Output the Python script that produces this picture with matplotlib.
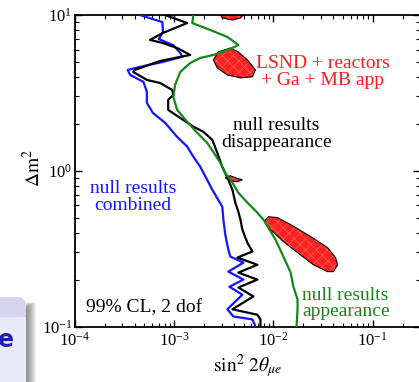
import matplotlib
matplotlib.use("Agg")
import matplotlib.pyplot as plt
from matplotlib.patches import Polygon, FancyBboxPatch, Rectangle

plt.rcParams['font.family'] = ['Liberation Serif', 'DejaVu Serif']
plt.rcParams['mathtext.fontset'] = 'stix'
plt.rcParams['hatch.linewidth'] = 0.5

# exclusion curves (sin^2 2theta, dm^2)
blue_x = [4.5e-4, 7.6e-4, 7.7e-4, 7.0e-4, 9.8e-4, 1.15e-3, 1.21e-3, 7.7e-4, 4.5e-4, 3.4e-4,
          3.6e-4, 4.9e-4, 5.3e-4, 5.3e-4, 6.1e-4, 8.1e-4, 1.07e-3, 1.35e-3, 1.56e-3, 1.83e-3,
          2.06e-3, 2.42e-3, 3.05e-3, 3.13e-3, 3.27e-3, 3.51e-3, 3.68e-3, 4.98e-3, 3.51e-3, 4.98e-3,
          3.6e-3, 4.86e-3, 3.43e-3, 3.94e-3, 6.14e-3, 6.6e-3]
blue_y = [10, 9.0, 7.8, 7.0, 6.4, 5.7, 5.4, 5.0, 4.64, 4.44,
          4.12, 3.72, 3.21, 2.73, 2.35, 2.03, 1.65, 1.43, 1.23, 1.06,
          0.92, 0.755, 0.588, 0.485, 0.389, 0.312, 0.281, 0.257, 0.225, 0.2,
          0.18, 0.16, 0.129, 0.116, 0.111, 0.1]

black_x = [8.1e-4, 1.35e-3, 7.7e-4, 5.7e-4, 7.6e-4, 1.07e-3, 1.45e-3, 7.2e-4, 4.0e-4, 3.86e-4,
           5.3e-4, 7.2e-4, 9.55e-4, 9.8e-4, 8.7e-4, 8.7e-4, 1.23e-3, 1.56e-3, 1.96e-3, 2.42e-3,
           2.72e-3, 3.05e-3, 3.51e-3, 3.86e-3, 4.13e-3, 4.43e-3, 4.65e-3, 4.86e-3, 5.46e-3, 6.14e-3,
           4.33e-3, 6.89e-3, 4.43e-3, 6.89e-3, 4.43e-3, 6.28e-3, 3.86e-3, 6.89e-3, 7.4e-3, 7.4e-3]
black_y = [10, 8.88, 7.67, 6.92, 6.62, 6.14, 5.54, 5.07, 4.44, 4.31,
           3.83, 3.66, 3.30, 3.07, 2.85, 2.46, 2.12, 1.92, 1.78, 1.58,
           1.30, 1.06, 0.875, 0.755, 0.624, 0.546, 0.485, 0.419, 0.345, 0.303,
           0.277, 0.249, 0.222, 0.2, 0.178, 0.156, 0.129, 0.119, 0.111, 0.1]

green_x = [1.56e-3, 1.52e-3, 2.31e-3, 3.43e-3, 4.43e-3, 3.86e-3, 2.48e-3, 1.83e-3, 1.45e-3, 1.15e-3,
           1.02e-3, 9.8e-4, 1.07e-3, 1.38e-3, 1.71e-3, 2.15e-3, 2.48e-3, 2.92e-3, 3.27e-3, 3.86e-3,
           4.43e-3, 5.46e-3, 6.89e-3, 7.93e-3, 8.89e-3, 1.05e-2, 1.26e-2, 1.49e-2, 1.59e-2, 1.75e-2,
           1.75e-2, 1.71e-2]
green_y = [10, 8.88, 8.01, 7.23, 6.42, 6.14, 5.54, 5.30, 4.92, 4.31,
           3.56, 2.98, 2.46, 2.03, 1.75, 1.51, 1.32, 1.12, 0.971, 0.838,
           0.723, 0.624, 0.538, 0.485, 0.431, 0.361, 0.281, 0.222, 0.180, 0.149,
           0.129, 0.1]

# allowed regions (LSND + reactors + Ga + MB app)
blob1_x = [2.78e-3, 3.27e-3, 4.65e-3, 5.21e-3, 4.65e-3, 3.86e-3, 3.05e-3]
blob1_y = [10.45, 10.9, 10.9, 10.3, 9.57, 9.29, 9.57]
blob2_x = [2.48e-3, 2.78e-3, 3.68e-3, 4.43e-3, 5.46e-3, 6.58e-3, 6.14e-3, 4.65e-3, 3.43e-3, 2.72e-3]
blob2_y = [5.15, 5.79, 6.14, 5.79, 5.15, 4.44, 4.01, 3.95, 4.12, 4.57]
blob3_x = [3.27e-3, 3.68e-3, 4.13e-3, 4.86e-3, 4.33e-3, 3.68e-3]
blob3_y = [0.902, 0.929, 0.902, 0.875, 0.850, 0.862]
blob4_x = [8.3e-3, 8.89e-3, 1.10e-2, 1.49e-2, 2.37e-2, 3.51e-2, 4.23e-2, 4.43e-2, 4.04e-2, 3.51e-2,
           2.53e-2, 1.75e-2, 1.26e-2, 9.33e-3, 8.3e-3]
blob4_y = [0.485, 0.507, 0.500, 0.451, 0.378, 0.321, 0.277, 0.249, 0.225, 0.225,
           0.249, 0.298, 0.351, 0.419, 0.464]

fig = plt.figure(figsize=(4.19, 3.82), dpi=100)
ax = fig.add_axes([75 / 419, 55.5 / 382, 345 / 419, 311.5 / 382])

for bx, by in [(blob1_x, blob1_y), (blob2_x, blob2_y), (blob3_x, blob3_y), (blob4_x, blob4_y)]:
    pts = list(zip(bx, by))
    ax.add_patch(Polygon(pts, closed=True, facecolor='#ff2020', edgecolor='none', zorder=2))
    ax.add_patch(Polygon(pts, closed=True, facecolor='none', edgecolor='#ff6060', hatch='xxx',
                         linewidth=0, zorder=2))
    ax.add_patch(Polygon(pts, closed=True, facecolor='none', edgecolor='black', linewidth=0.8, zorder=3))

ax.plot(blue_x, blue_y, color='#1414ff', lw=1.6, zorder=4)
ax.plot(black_x, black_y, color='black', lw=1.6, zorder=4)
ax.plot(green_x, green_y, color='#13871a', lw=1.6, zorder=4)

ax.set_xscale('log')
ax.set_yscale('log')
ax.set_xlim(1e-4, 0.3)
ax.set_ylim(0.1, 10)
for s in ax.spines.values():
    s.set_linewidth(1.3)
ax.tick_params(which='both', direction='in', top=True, right=True, labelsize=12)
ax.tick_params(which='major', length=5, width=1.0)
ax.tick_params(which='minor', length=3, width=0.8)
ax.tick_params(axis='y', pad=2)

txt = dict(fontsize=14, linespacing=1.0, ha='center', va='center', multialignment='center')
ax.text(0.0313, 4.31, 'LSND + reactors\n+ Ga + MB app', color='#ff1a1a', **txt)
ax.text(0.0107, 1.73, 'null results\ndisappearance', color='black', **txt)
ax.text(3.86e-4, 0.681, 'null results\ncombined', color='#1414ff', **txt)
ax.text(0.0196, 0.14, 'null results\nappearance', color='#13871a', fontsize=14, linespacing=0.95,
        ha='left', va='center')
ax.text(1.29e-4, 0.132, '99% CL, 2 dof', color='black', fontsize=14, ha='left', va='center')

fig.text(248 / 419, 1 - 366 / 382, r'$\sin^2\,2\theta_{\mu e}$', fontsize=14, ha='center', va='center')
fig.text(33 / 419, 1 - 168 / 382, r'$\Delta\mathrm{m}^2$', fontsize=14, ha='center', va='center',
         rotation=90)

# slide box peeking in at the lower left, with a soft shadow
for i in range(10):
    fig.patches.append(Rectangle((26 / 419, 0), (10 - i) / 419, (80 - i * 0.6) / 382,
                                 transform=fig.transFigure, facecolor='#303030', alpha=0.07,
                                 edgecolor='none', zorder=0))
fig.patches.append(FancyBboxPatch((-0.05, -0.05), 0.111, 0.27, boxstyle='round,pad=0,rounding_size=0.02',
                                  transform=fig.transFigure, facecolor='#e8e8f6', edgecolor='none', zorder=1))
fig.patches.append(FancyBboxPatch((-0.05, 0.17), 0.111, 0.0525, boxstyle='round,pad=0,rounding_size=0.02',
                                  transform=fig.transFigure, facecolor='#d4d4f0', edgecolor='none', zorder=1))
fig.patches.append(Rectangle((-0.05, 0.17), 0.111, 0.02, transform=fig.transFigure,
                             facecolor='#d4d4f0', edgecolor='none', zorder=1))
fig.text(-0.004, 1 - 340 / 382, 'e', fontsize=17, color='#2020b0', fontweight='bold',
         family='DejaVu Sans', ha='left', va='center')

fig.savefig('out.png', dpi=100)
